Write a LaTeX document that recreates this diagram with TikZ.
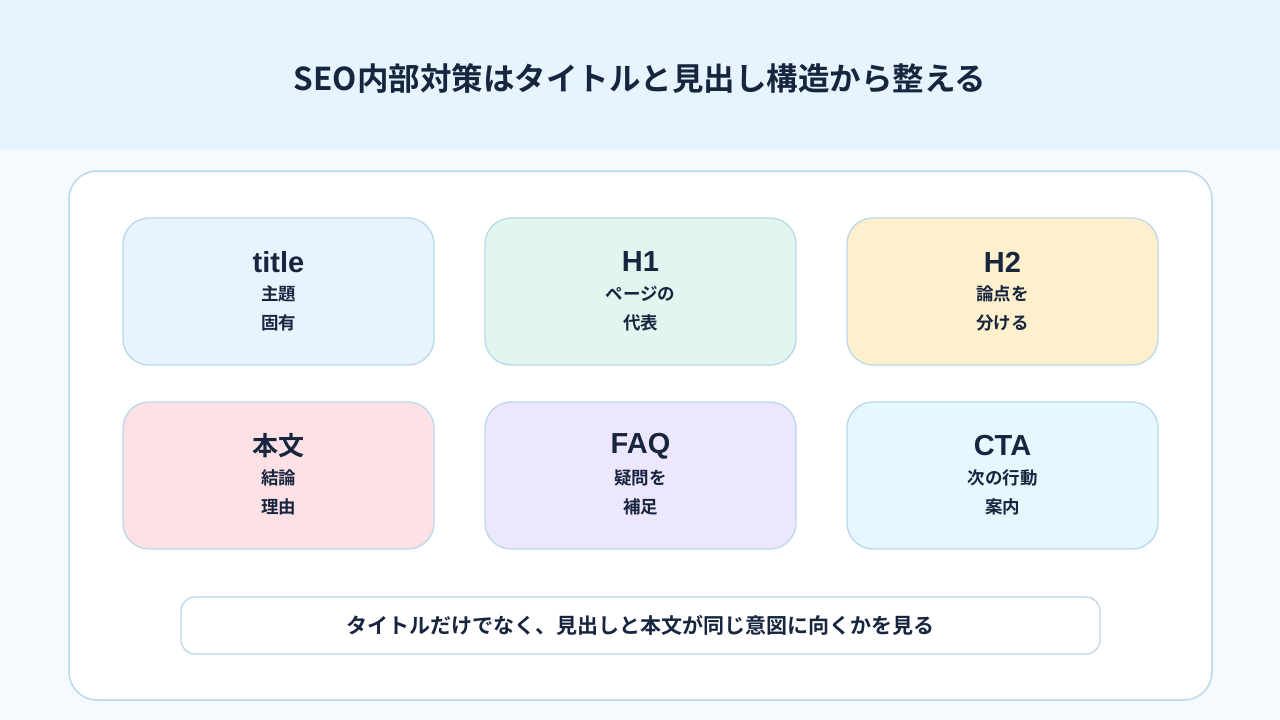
\documentclass[tikz,border=0pt]{standalone}
\usepackage{fontspec}
\setmainfont{Noto Sans CJK JP}[BoldFont={* Bold}]
\newfontfamily\cjkb{Noto Sans CJK JP Bold}
\newfontfamily\latb{Liberation Sans}[BoldFont={* Bold}]
\definecolor{ink}{HTML}{17253F}
\definecolor{band}{HTML}{E6F4FD}
\definecolor{pagebg}{HTML}{F5FAFE}
\definecolor{edge}{HTML}{B9D8EA}
\definecolor{cA}{HTML}{E8F3FD}
\definecolor{cB}{HTML}{E0F6EF}
\definecolor{cC}{HTML}{FEF0CC}
\definecolor{cD}{HTML}{FDE1E5}
\definecolor{cE}{HTML}{EDE7FD}
\definecolor{cF}{HTML}{E5F8FD}
\tikzset{
  card/.style={draw=edge, line width=1.3pt, rounded corners=26pt, minimum width=311pt, minimum height=147pt, inner sep=0pt},
  head/.style={text=ink, font=\latb\bfseries\fontsize{29}{32}\selectfont, anchor=center},
  headj/.style={text=ink, font=\cjkb\fontsize{26}{30}\selectfont, anchor=center},
  sub/.style={text=ink, font=\cjkb\fontsize{17.5}{20}\selectfont, anchor=center},
}
\begin{document}
\begin{tikzpicture}[x=1pt,y=-1pt]
\useasboundingbox (0,0) rectangle (1280,720);
\fill[pagebg] (0,0) rectangle (1280,720);
\fill[band] (0,0) rectangle (1280,150);
\node[text=ink, font=\cjkb\fontsize{31.5}{34}\selectfont] (ttl) at (640,78) {SEO内部対策はタイトルと見出し構造から整える};
\node[draw=edge, line width=1.5pt, fill=white, rounded corners=28pt, minimum width=1143pt, minimum height=529pt] (panel) at (640.5,435.5) {};
\node[card, fill=cA] (c1) at (278.5,291.5) {};
\node[card, fill=cB] (c2) at (640.5,291.5) {};
\node[card, fill=cC] (c3) at (1002.5,291.5) {};
\node[card, fill=cD] (c4) at (278.5,475.5) {};
\node[card, fill=cE] (c5) at (640.5,475.5) {};
\node[card, fill=cF] (c6) at (1002.5,475.5) {};
\node[head] (h1) at (278.5,262) {title};
\node[sub] (s1a) at (278.5,294) {主題};
\node[sub] (s1b) at (278.5,323) {固有};
\node[head] (h2) at (640.5,262) {H1};
\node[sub] (s2a) at (640.5,294) {ページの};
\node[sub] (s2b) at (640.5,323) {代表};
\node[head] (h3) at (1002.5,262) {H2};
\node[sub] (s3a) at (1002.5,294) {論点を};
\node[sub] (s3b) at (1002.5,323) {分ける};
\node[headj] (h4) at (278.5,446) {本文};
\node[sub] (s4a) at (278.5,478) {結論};
\node[sub] (s4b) at (278.5,507) {理由};
\node[head] (h5) at (640.5,446) {FAQ};
\node[sub] (s5a) at (640.5,478) {疑問を};
\node[sub] (s5b) at (640.5,507) {補足};
\node[head] (h6) at (1002.5,446) {CTA};
\node[sub] (s6a) at (1002.5,478) {次の行動};
\node[sub] (s6b) at (1002.5,507) {案内};
\node[draw=edge, line width=1.3pt, fill=white, rounded corners=14pt, minimum width=919pt, minimum height=57pt] (foot) at (640.5,625.5) {};
\node[text=ink, font=\cjkb\fontsize{21}{24}\selectfont] (ft) at (640,625) {タイトルだけでなく、見出しと本文が同じ意図に向くかを見る};
\end{tikzpicture}
\end{document}
